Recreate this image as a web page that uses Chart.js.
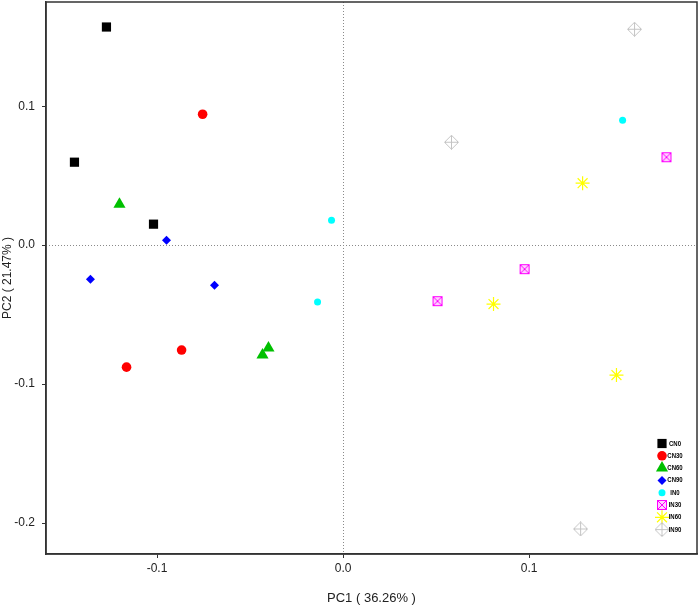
<!doctype html>
<html lang="en">
<head>
  <meta charset="utf-8">
  <title>PCA</title>
  <script src="https://cdn.jsdelivr.net/npm/chart.js@4.4.1/dist/chart.umd.min.js"></script>
  <style>
    html, body { margin: 0; padding: 0; background: #fff; }
  </style>
</head>
<body>
<canvas id="pca" width="700" height="608"></canvas>
<script>
// group names, in legend order
const groups = ['CN0', 'CN30', 'CN60', 'CN90', 'IN0', 'IN30', 'IN60', 'IN90'];

// PC1 / PC2 scores per group
const CN0_pc1  = [-0.1272, -0.1444, -0.1019];
const CN0_pc2  = [ 0.1570,  0.0597,  0.0151];
const CN30_pc1 = [-0.0755, -0.0868, -0.1164];
const CN30_pc2 = [ 0.0942, -0.0755, -0.0878];
const CN60_pc1 = [-0.1202, -0.0401, -0.0433];
const CN60_pc2 = [ 0.0295, -0.0741, -0.0791];
const CN90_pc1 = [-0.0949, -0.1358, -0.0691];
const CN90_pc2 = [ 0.0036, -0.0245, -0.0288];
const IN0_pc1  = [-0.0062, -0.0137,  0.1503];
const IN0_pc2  = [ 0.0180, -0.0410,  0.0899];
const IN30_pc1 = [ 0.1739,  0.0976,  0.0508];
const IN30_pc2 = [ 0.0633, -0.0173, -0.0403];
const IN60_pc1 = [ 0.1288,  0.0809,  0.1470];
const IN60_pc2 = [ 0.0446, -0.0424, -0.0935];
const IN90_pc1 = [ 0.1567,  0.0583,  0.1277];
const IN90_pc2 = [ 0.1554,  0.0741, -0.2043];

const xTicks = [-0.1, 0.0, 0.1];
const yTicks = [-0.2, -0.1, 0.0, 0.1];

const pc1 = [CN0_pc1, CN30_pc1, CN60_pc1, CN90_pc1, IN0_pc1, IN30_pc1, IN60_pc1, IN90_pc1];
const pc2 = [CN0_pc2, CN30_pc2, CN60_pc2, CN90_pc2, IN0_pc2, IN30_pc2, IN60_pc2, IN90_pc2];

// composite symbols that Chart.js doesn't have built in
function boxX() {
  const c = document.createElement('canvas');
  c.width = 12; c.height = 12;
  const g = c.getContext('2d');
  g.fillStyle = '#ffd0ff';
  g.fillRect(1, 1, 10, 10);
  g.strokeStyle = '#ff00ff';
  g.lineWidth = 1;
  g.strokeRect(1.5, 1.5, 9, 9);
  g.beginPath();
  g.moveTo(1.5, 1.5); g.lineTo(10.5, 10.5);
  g.moveTo(10.5, 1.5); g.lineTo(1.5, 10.5);
  g.stroke();
  return c;
}

function diamondPlus() {
  const c = document.createElement('canvas');
  c.width = 15; c.height = 15;
  const g = c.getContext('2d');
  g.strokeStyle = '#c4c4c4';
  g.lineWidth = 1;
  g.beginPath();
  g.moveTo(7.5, 0.5); g.lineTo(14.5, 7.5); g.lineTo(7.5, 14.5); g.lineTo(0.5, 7.5); g.closePath();
  g.moveTo(7.5, 0.5); g.lineTo(7.5, 14.5);
  g.moveTo(0.5, 7.5); g.lineTo(14.5, 7.5);
  g.stroke();
  return c;
}

const styles = [
  { pointStyle: 'rect',     radius: 6.5, bg: '#000000', border: '#000000', bw: 0 },
  { pointStyle: 'circle',   radius: 4.8, bg: '#ff0000', border: '#ff0000', bw: 0 },
  { pointStyle: 'triangle', radius: 7,   bg: '#00c000', border: '#00c000', bw: 0 },
  { pointStyle: 'rectRot',  radius: 4.5, bg: '#0000ff', border: '#0000ff', bw: 0 },
  { pointStyle: 'circle',   radius: 3.5, bg: '#00ffff', border: '#00ffff', bw: 0 },
  { pointStyle: boxX(),     radius: 6,   bg: '#ff00ff', border: '#ff00ff', bw: 0 },
  { pointStyle: 'star',     radius: 7,   bg: '#ffff00', border: '#ffff00', bw: 1.2 },
  { pointStyle: diamondPlus(), radius: 7, bg: '#c4c4c4', border: '#c4c4c4', bw: 0 }
];

const datasets = groups.map((name, i) => ({
  label: name,
  data: pc1[i].map((x, j) => ({ x: x, y: pc2[i][j] })),
  pointStyle: styles[i].pointStyle,
  pointRadius: styles[i].radius,
  backgroundColor: styles[i].bg,
  borderColor: styles[i].border,
  borderWidth: styles[i].bw
}));

// frame, dotted zero lines and the little legend in the corner
const decor = {
  id: 'decor',
  beforeDatasetsDraw(chart) {
    const ctx = chart.ctx;
    const a = chart.chartArea;
    const x0 = Math.round(chart.scales.x.getPixelForValue(0)) + 0.5;
    const y0 = Math.round(chart.scales.y.getPixelForValue(0)) + 0.5;
    ctx.save();
    ctx.strokeStyle = '#8a8a8a';
    ctx.lineWidth = 1;
    ctx.setLineDash([1, 2]);
    ctx.beginPath();
    ctx.moveTo(x0, a.top); ctx.lineTo(x0, a.bottom);
    ctx.moveTo(a.left, y0); ctx.lineTo(a.right, y0);
    ctx.stroke();
    ctx.setLineDash([]);
    ctx.strokeStyle = '#333';
    ctx.lineWidth = 1.5;
    ctx.strokeRect(a.left, a.top, a.right - a.left, a.bottom - a.top);
    ctx.restore();
  },
  afterDraw(chart) {
    const ctx = chart.ctx;
    const drawPoint = Chart.helpers.drawPoint;
    ctx.save();
    chart.data.datasets.forEach((ds, i) => {
      const y = 443.5 + i * 12.3;
      ctx.fillStyle = ds.backgroundColor;
      ctx.strokeStyle = ds.borderColor;
      ctx.lineWidth = ds.borderWidth;
      drawPoint(ctx, { pointStyle: ds.pointStyle, radius: ds.pointRadius, rotation: 0, borderWidth: ds.borderWidth }, 662, y);
      ctx.save();
      ctx.translate(675, y);
      ctx.scale(0.8, 1);
      ctx.fillStyle = '#000';
      ctx.font = 'bold 7.5px "Liberation Sans", Arial, sans-serif';
      ctx.textAlign = 'center';
      ctx.textBaseline = 'middle';
      ctx.fillText(ds.label, 0, 0);
      ctx.restore();
    });
    ctx.restore();
  }
};

const tickFont = { family: '"Liberation Sans", Arial, sans-serif', size: 12 };

// kill the extra room Chart.js keeps for end labels
function noPad(s) {
  s.paddingTop = 0; s.paddingBottom = 0; s.paddingLeft = 0; s.paddingRight = 0;
}

new Chart(document.getElementById('pca'), {
  type: 'scatter',
  data: { datasets: datasets },
  options: {
    responsive: false,
    animation: false,
    layout: { autoPadding: false, padding: { top: 2, right: 3, left: 0, bottom: 0 } },
    plugins: {
      legend: { display: false },
      tooltip: { enabled: false }
    },
    scales: {
      x: {
        type: 'linear',
        min: -0.1597,
        max: 0.1903,
        afterBuildTicks: s => { s.ticks = xTicks.map(v => ({ value: v })); },
        afterFit: s => { s.height = 54; noPad(s); },
        ticks: { callback: v => v.toFixed(1), font: tickFont, color: '#222', padding: 3, maxRotation: 0 },
        grid: { drawOnChartArea: false, drawTicks: true, tickLength: 4, tickColor: '#333', tickWidth: 1 },
        border: { color: '#333', width: 1.5 },
        title: { display: true, text: 'PC1 ( 36.26% )', color: '#222',
                 font: { family: '"Liberation Sans", Arial, sans-serif', size: 13 }, padding: { top: 0, bottom: 2 } }
      },
      y: {
        type: 'linear',
        min: -0.2223,
        max: 0.175,
        afterBuildTicks: s => { s.ticks = yTicks.map(v => ({ value: v })); },
        afterFit: s => { s.width = 46; noPad(s); },
        ticks: { callback: v => v.toFixed(1), font: tickFont, color: '#222', padding: 7 },
        grid: { drawOnChartArea: false, drawTicks: true, tickLength: 4, tickColor: '#333', tickWidth: 1 },
        border: { color: '#333', width: 1.5 },
        title: { display: true, text: 'PC2 ( 21.47% )', color: '#222',
                 font: { family: '"Liberation Sans", Arial, sans-serif', size: 12 }, padding: { top: 0, bottom: 0 } }
      }
    }
  },
  plugins: [decor]
});
</script>
</body>
</html>
